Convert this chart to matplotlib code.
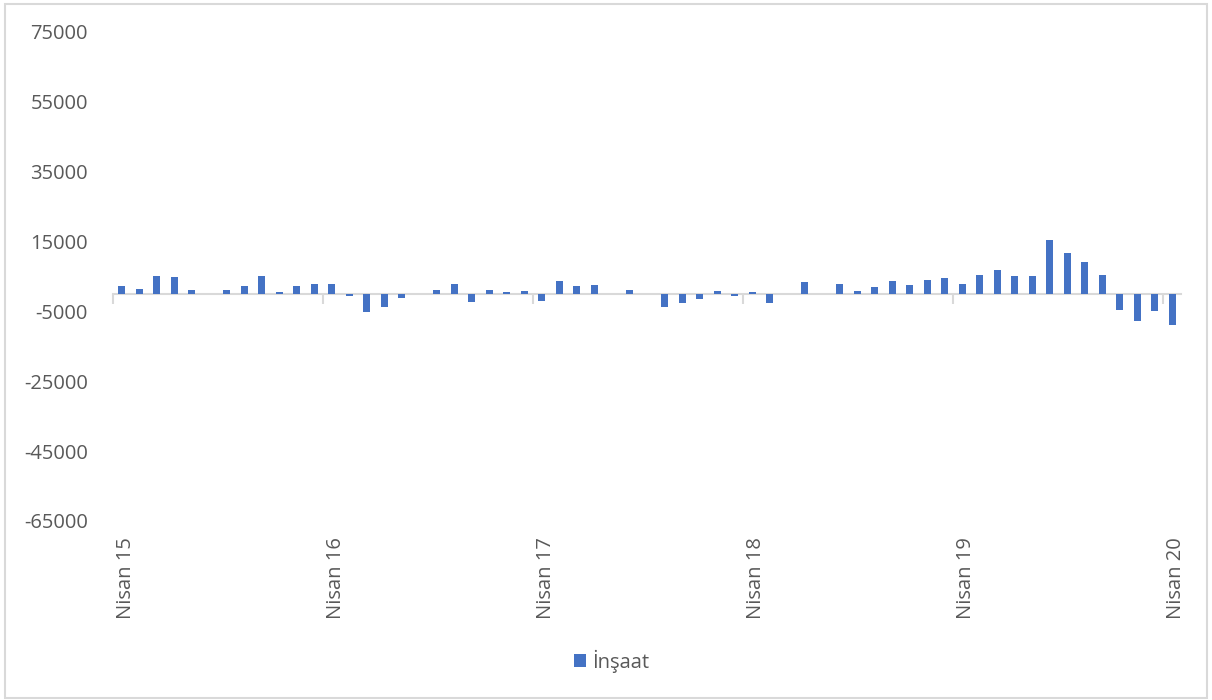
import matplotlib
matplotlib.use('Agg')
from matplotlib import pyplot as plt
from matplotlib.patches import Rectangle
import matplotlib.transforms as mtransforms

# Aylık değerler, Nisan 2015 - Nisan 2020 (61 ay)
insaat = [
    2200, 1500, 5250, 4800, 1150, 0, 1150, 2200, 5250, 500, 2200, 2950,
    2950, -700, -5150, -3700, -1150, 0, 1150, 2950, -2200, 1150, 500, 750,
    -1900, 3700, 2200, 2700, 0, 1150, 0, -3700, -2600, -1500, 750, -700,
    500, -2600, 0, 3350, 0, 2950, 750, 1900, 3700, 2700, 4100, 4500,
    2950, 5550, 6950, 5250, 5250, 15450, 11750, 9250, 5550, -4500, -7750, -4850,
    -8800,
]
year_labels = ['Nisan 15', 'Nisan 16', 'Nisan 17', 'Nisan 18', 'Nisan 19', 'Nisan 20']
y_ticks = [75000, 55000, 35000, 15000, -5000, -25000, -45000, -65000]

plt.rcParams['font.family'] = ['Open Sans', 'DejaVu Sans']
text_color = '#595959'
grid_color = '#d9d9d9'

W, H = 1212, 700
fig = plt.figure(figsize=(W / 100, H / 100), dpi=100)
ax = fig.add_axes([113 / W, (H - 521) / H, (1181 - 113) / W, (521 - 32) / H])

x = list(range(len(insaat)))
ax.bar(x, insaat, width=0.4, color='#4472C4', label='İnşaat', zorder=3)

ax.set_xlim(-0.5, len(insaat) - 0.5)
ax.set_ylim(-65000, 75000)
ax.set_yticks(y_ticks)
ax.set_yticklabels([str(v) for v in y_ticks], color=text_color, fontsize=14.5)
ax.tick_params(axis='y', length=0, pad=18)

for side in ['top', 'right', 'left']:
    ax.spines[side].set_visible(False)
ax.spines['bottom'].set_position(('data', 0))
ax.spines['bottom'].set_color(grid_color)
ax.spines['bottom'].set_linewidth(1.5)
ax.spines['bottom'].set_zorder(2)

# yıl sınırlarında tik çizgileri
ax.set_xticks([i * 12 - 0.5 for i in range(len(year_labels))])
ax.set_xticklabels([])
ax.tick_params(axis='x', length=7, width=1.5, color=grid_color, direction='out')

# etiketler eksenin altında
trans = mtransforms.blended_transform_factory(ax.transData, ax.transAxes)
trans = trans + mtransforms.ScaledTranslation(4 / 100, 0, fig.dpi_scale_trans)
for i, lab in enumerate(year_labels):
    ax.text(i * 12, -0.033, lab, transform=trans, rotation=90, ha='center', va='top',
            color=text_color, fontsize=14.5)

leg = fig.legend(loc='center', bbox_to_anchor=(612 / W, (H - 661) / H), frameon=False,
                 handlelength=0.6, handleheight=0.6, handletextpad=0.3, fontsize=14.5)
for t in leg.get_texts():
    t.set_color(text_color)

fig.patches.append(Rectangle((5 / W, 2 / H), (1207 - 5) / W, (697 - 3) / H, transform=fig.transFigure,
                             fill=False, edgecolor=grid_color, linewidth=1.5))

plt.savefig('out.png', dpi=100)
